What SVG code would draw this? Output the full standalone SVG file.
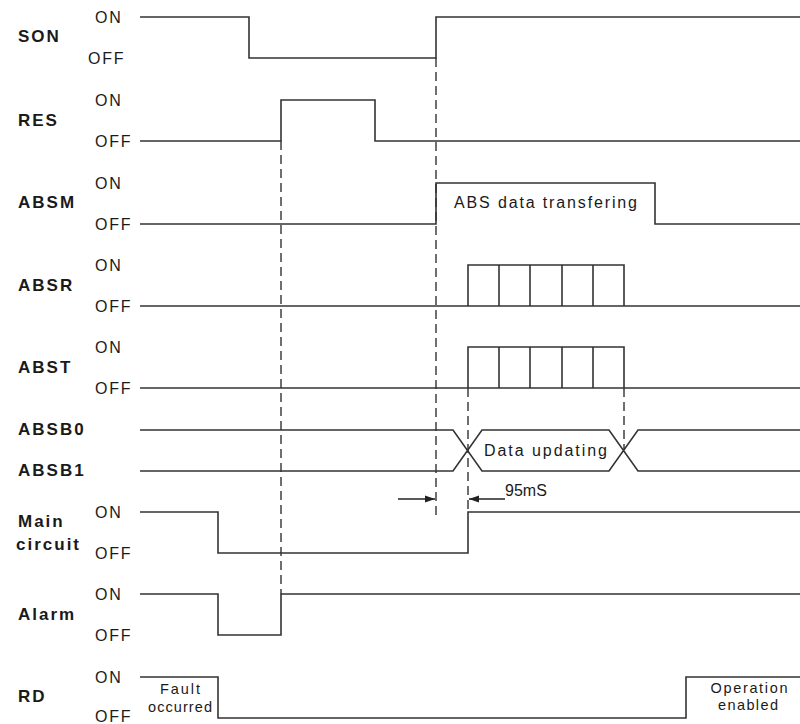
<svg xmlns="http://www.w3.org/2000/svg" width="800" height="724" viewBox="0 0 800 724">
<style>
.sig{fill:none;stroke:#333;stroke-width:1.6}
.dash{fill:none;stroke:#333;stroke-width:1.4;stroke-dasharray:9 5}
.lbl{font-family:"Liberation Sans",Arial,sans-serif;font-weight:bold;font-size:17px;fill:#1a1a1a;letter-spacing:2px}
.st{font-family:"Liberation Sans",Arial,sans-serif;font-size:16px;fill:#1a1a1a;letter-spacing:1.8px}
.t{font-family:"Liberation Sans",Arial,sans-serif;font-size:16px;fill:#1a1a1a}
.s{font-family:"Liberation Sans",Arial,sans-serif;font-size:14.5px;fill:#1a1a1a;text-anchor:middle}
</style>
<defs>
<marker id="ah" viewBox="0 0 10 10" refX="10" refY="5" markerWidth="10" markerHeight="10" markerUnits="userSpaceOnUse" orient="auto">
<path d="M0,1.5 L10,5 L0,8.5 Z" fill="#222"/>
</marker>
</defs>
<rect width="800" height="724" fill="#fff"/>

<g id="SON">
<text class="lbl" x="18" y="42">SON</text>
<text class="st" x="95" y="23">ON</text>
<text class="st" x="88" y="64">OFF</text>
<polyline class="sig" points="140,17 249,17 249,58 436,58 436,17 800,17"/>
</g>
<g id="RES">
<text class="lbl" x="18" y="126">RES</text>
<text class="st" x="95" y="106">ON</text>
<text class="st" x="95" y="147">OFF</text>
<polyline class="sig" points="140,141 281,141 281,100 375,100 375,141 800,141"/>
</g>
<g id="ABSM">
<text class="lbl" x="18" y="208">ABSM</text>
<text class="st" x="95" y="189">ON</text>
<text class="st" x="95" y="230">OFF</text>
<polyline class="sig" points="140,224 436,224 436,183 655,183 655,224 800,224"/>
<text class="t" x="454" y="208" textLength="183" lengthAdjust="spacing">ABS data transfering</text>
</g>
<g id="ABSR">
<text class="lbl" x="18" y="291">ABSR</text>
<text class="st" x="95" y="271">ON</text>
<text class="st" x="95" y="312">OFF</text>
<polyline class="sig" points="140,306 800,306"/>
<path class="sig" d="M468,306 V265 H624 V306 M499,265 V306 M530,265 V306 M562,265 V306 M593,265 V306"/>
</g>
<g id="ABST">
<text class="lbl" x="18" y="373">ABST</text>
<text class="st" x="95" y="353">ON</text>
<text class="st" x="95" y="394">OFF</text>
<polyline class="sig" points="140,388 800,388"/>
<path class="sig" d="M468,388 V347 H624 V388 M499,347 V388 M530,347 V388 M562,347 V388 M593,347 V388"/>
</g>
<g id="ABSB">
<text class="lbl" x="18" y="435">ABSB0</text>
<text class="lbl" x="18" y="476">ABSB1</text>
<path class="sig" d="M140,430 H453 L482,471 H609 L638,430 H800 M140,471 H453 L482,430 H609 L638,471 H800"/>
<text class="t" x="484" y="456" textLength="123" lengthAdjust="spacing">Data updating</text>
</g>
<g id="MainCircuit">
<text class="lbl" x="18" y="527">Main</text>
<text class="lbl" x="16" y="550" letter-spacing="1">circuit</text>
<text class="st" x="95" y="518">ON</text>
<text class="st" x="95" y="559">OFF</text>
<polyline class="sig" points="140,512 218,512 218,553 468,553 468,512 800,512"/>
</g>
<g id="Alarm">
<text class="lbl" x="18" y="620">Alarm</text>
<text class="st" x="95" y="600">ON</text>
<text class="st" x="95" y="641">OFF</text>
<polyline class="sig" points="140,594 218,594 218,635 281,635 281,594 800,594"/>
</g>
<g id="RD">
<text class="lbl" x="18" y="702">RD</text>
<text class="st" x="95" y="683">ON</text>
<text class="st" x="95" y="722">OFF</text>
<polyline class="sig" points="140,677 218,677 218,718 686,718 686,677 800,677"/>
<text class="s" x="180" y="694" textLength="40" lengthAdjust="spacing">Fault</text>
<text class="s" x="180" y="712" textLength="64" lengthAdjust="spacing">occurred</text>
<text class="s" x="749" y="693" textLength="77" lengthAdjust="spacing">Operation</text>
<text class="s" x="748" y="710" textLength="60" lengthAdjust="spacing">enabled</text>
</g>
<g id="connectors">
<line class="dash" x1="436" y1="58" x2="436" y2="518"/>
<line class="dash" x1="281" y1="141" x2="281" y2="594"/>
<line class="dash" x1="468" y1="388" x2="468" y2="512"/>
<line class="dash" x1="624" y1="388" x2="624" y2="450"/>
<line x1="398" y1="499" x2="435" y2="499" stroke="#222" stroke-width="1.4" marker-end="url(#ah)"/>
<line x1="505" y1="499" x2="469" y2="499" stroke="#222" stroke-width="1.4" marker-end="url(#ah)"/>
<text class="t" x="505" y="496">95mS</text>
</g>
</svg>
